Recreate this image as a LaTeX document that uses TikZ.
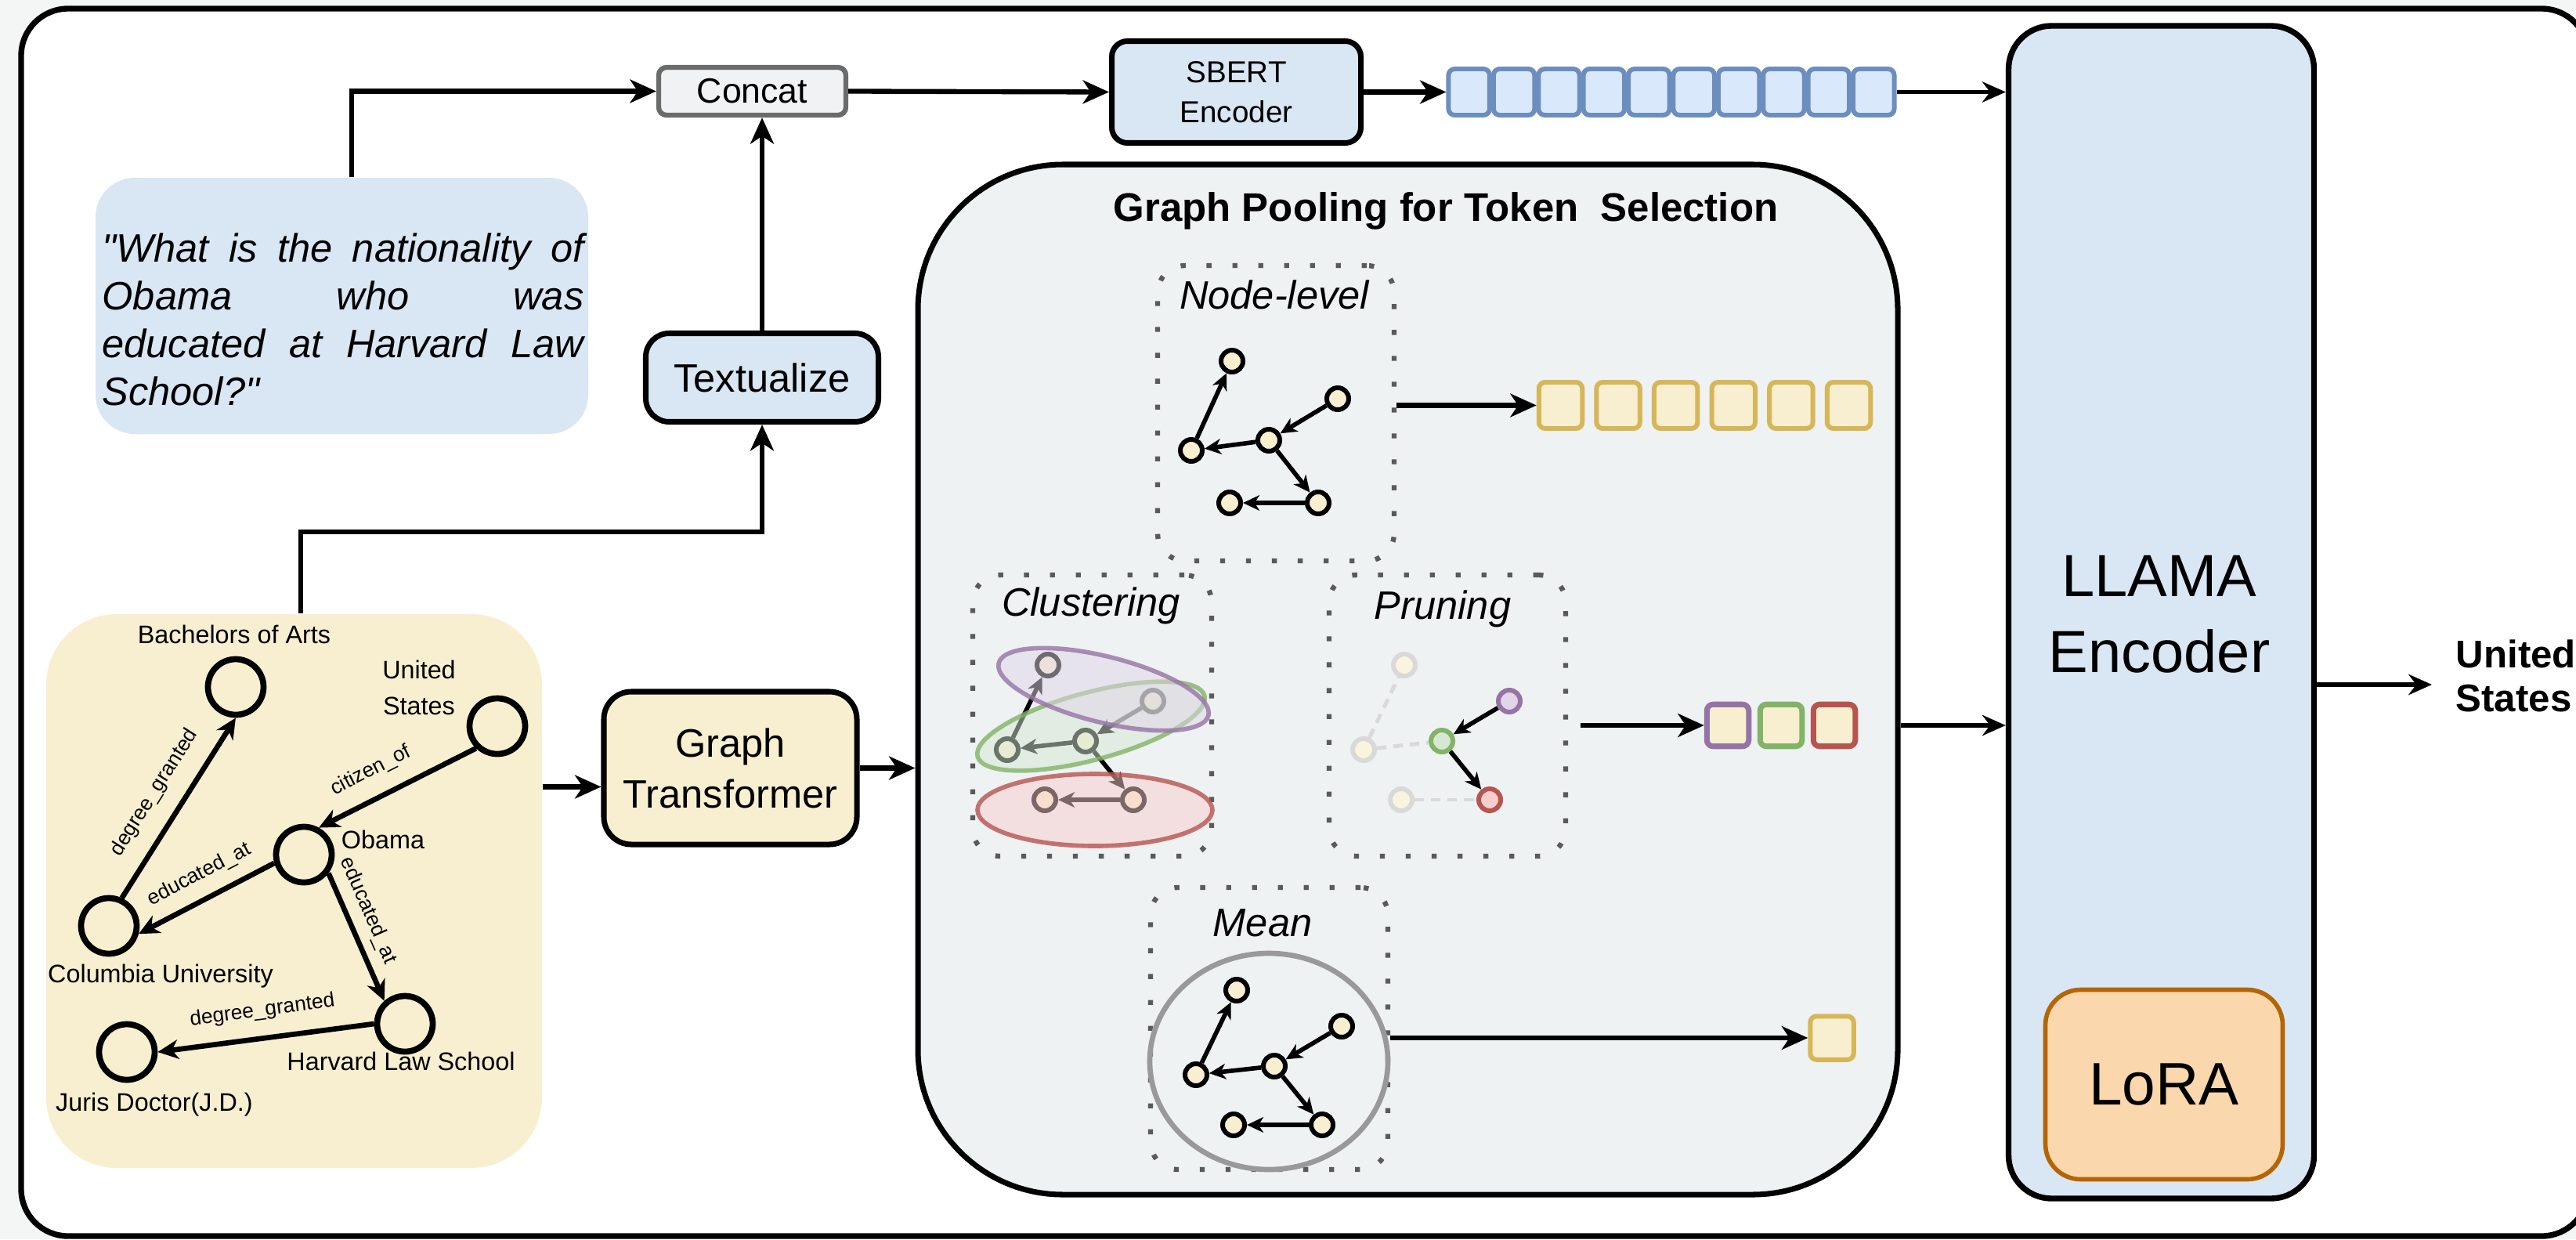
\documentclass[tikz,border=0pt]{standalone}
\usepackage{fontspec}
\setmainfont{Liberation Sans}
\usetikzlibrary{arrows.meta,shapes.geometric,positioning}

\definecolor{qblue}{HTML}{D9E6F3}
\definecolor{kgyel}{HTML}{F8EFD0}
\definecolor{poolbg}{HTML}{EEF2F3}
\definecolor{pagebg}{HTML}{F4F6F6}
\definecolor{cgray}{HTML}{F0F2F3}
\definecolor{cline}{HTML}{6B6B6B}
\definecolor{dotgray}{HTML}{5A5A5A}
\definecolor{tokline}{HTML}{6C8EBF}
\definecolor{tokfill}{HTML}{DAE8FC}
\definecolor{yline}{HTML}{D6B656}
\definecolor{pfill}{HTML}{E1D5E7}
\definecolor{pline}{HTML}{9673A6}
\definecolor{gfill}{HTML}{D5E8D4}
\definecolor{gline}{HTML}{82B366}
\definecolor{rfill}{HTML}{F8CECC}
\definecolor{rline}{HTML}{B85450}
\definecolor{lfill}{HTML}{FAD7AC}
\definecolor{lline}{HTML}{B46504}
\definecolor{meangray}{HTML}{999999}

\newcommand{\fsz}[2]{\fontsize{#1}{#2}\selectfont}

\tikzset{
  arr/.style={line width=1.8pt,-{Stealth[length=9.5pt,width=8.5pt,inset=2.8pt]}},
  thinarr/.style={line width=1.5pt,-{Stealth[length=8.5pt,width=7.5pt,inset=2.8pt]}},
  kgarr/.style={line width=1.9pt,-{Stealth[length=7.5pt,width=7pt,inset=2.3pt]}},
  miniarr/.style={line width=1.6pt,-{Stealth[length=6pt,width=5.6pt,inset=1.8pt]}},
  prdash/.style={draw=gray!30,line width=1.4pt,dash pattern=on 3.5pt off 2.5pt},
  blockbox/.style={draw,line width=2pt,rounded corners=0.3cm,align=center,inner sep=0pt},
  kgnode/.style={circle,draw,line width=2.2pt,minimum size=0.71cm,inner sep=0pt},
  mini/.style={circle,draw,line width=1.7pt,fill=kgyel,minimum size=0.28cm,inner sep=0pt},
  faded/.style={mini,draw=gray!30,fill=kgyel!70},
  kglabel/.style={font=\fsz{9.2}{13}},
  edgelabel/.style={font=\fsz{7.5}{9},sloped,inner sep=1pt},
  dotbox/.style={draw=dotgray,line width=1.8pt,dash pattern=on 1.8pt off 7.6pt,rounded corners=0.35cm},
  token/.style={draw,line width=1.7pt,rounded corners=0.08cm,inner sep=0pt},
  sublabel/.style={font=\fsz{14.4}{17}\itshape,anchor=base},
  cluster/.style={ellipse,line width=1.6pt,inner sep=0pt,fill opacity=0.5,draw opacity=0.8},
}

\begin{document}
\begin{tikzpicture}
  \useasboundingbox (0,0) rectangle (32.89,-15.82);
  \clip (0,0) rectangle (32.89,-15.82);
  \fill[pagebg] (0,0) rectangle (32.89,-15.82);
  \draw[line width=2.1pt,fill=white,rounded corners=0.6cm] (0.27,-0.11) rectangle (33.05,-15.78);

  % question and text branch
  \node[fill=qblue,rounded corners=0.5cm,minimum width=6.29cm,minimum height=3.27cm] (qbox) at (4.365,-3.905) {};
  \node[text width=6.15cm,align=justify,font=\fsz{14.4}{17.3}\itshape,inner sep=0pt] (qtext) at (4.38,-4.08)
    {\textquotedbl What is the nationality of\linebreak Obama who was\linebreak educated at Harvard Law\linebreak School?\textquotedbl};
  \node[draw=cline,fill=cgray,line width=1.8pt,rounded corners=0.1cm,minimum width=2.39cm,minimum height=0.61cm,inner sep=0pt,font=\fsz{12.7}{15}] (concat) at (9.605,-1.165) {Concat};
  \node[blockbox,fill=qblue,minimum width=2.97cm,minimum height=1.13cm,font=\fsz{14.4}{17}] (textual) at (9.73,-4.82) {Textualize};
  \node[blockbox,fill=qblue,rounded corners=0.2cm,minimum width=3.18cm,minimum height=1.30cm,font=\fsz{11}{14.5}] (sbert) at (15.785,-1.175) {SBERT\\Encoder};
  \foreach \i in {0,...,9}
    \node[token,draw=tokline,fill=tokfill,minimum width=0.525cm,minimum height=0.59cm] (bt\i) at ({18.757+0.574*\i},-1.175) {};

  % knowledge graph
  \node[fill=kgyel,rounded corners=0.9cm,minimum width=6.33cm,minimum height=7.07cm] (kg) at (3.755,-11.375) {};
  \node[kgnode] (ba) at (3.01,-8.77) {};
  \node[kgnode] (us) at (6.35,-9.27) {};
  \node[kgnode] (ob) at (3.88,-10.91) {};
  \node[kgnode] (cu) at (1.39,-11.82) {};
  \node[kgnode] (hls) at (5.17,-13.07) {};
  \node[kgnode] (jd) at (1.62,-13.43) {};
  \node[kglabel,anchor=base] (balab) at (2.99,-8.21) {Bachelors of Arts};
  \node[kglabel,align=center] (uslab) at (5.35,-8.78) {United\\States};
  \node[kglabel,anchor=base] (oblab) at (4.89,-10.83) {Obama};
  \node[kglabel,anchor=base] (culab) at (2.05,-12.54) {Columbia University};
  \node[kglabel,anchor=base] (hlslab) at (5.12,-13.66) {Harvard Law School};
  \node[kglabel,anchor=base] (jdlab) at (1.97,-14.18) {Juris Doctor(J.D.)};
  \draw[kgarr] (cu.65) -- node[edgelabel,above=5pt] {degree\_granted} (ba.south);
  \draw[kgarr] (us.226) -- node[edgelabel,above=4.5pt,pos=0.59] {citizen\_of} (ob.61);
  \draw[kgarr] (ob.196) -- node[edgelabel,above=3.5pt,pos=0.47] {educated\_at} (cu.-15);
  \draw[kgarr] (ob.-37) -- node[edgelabel,above=2.3pt,pos=0.36] {educated\_at} (hls.132);
  \draw[kgarr] (hls.west) -- node[edgelabel,above=4.5pt] {degree\_granted} (jd.east);

  \node[blockbox,fill=kgyel,rounded corners=0.35cm,minimum width=3.23cm,minimum height=1.95cm,font=\fsz{14.4}{18.5}] (gt) at (9.325,-9.805) {Graph\\Transformer};
  \coordinate (gtin) at ([yshift=-0.24cm]gt.west);

  % pooling
  \node[draw,line width=2pt,fill=poolbg,rounded corners=1.85cm,minimum width=12.51cm,minimum height=13.15cm] (pool) at (17.975,-8.675) {};
  \node[font=\fsz{14.5}{17}\bfseries,anchor=base] (pooltitle) at (18.46,-2.82) {Graph Pooling for Token\ \ Selection};

  \node[dotbox,minimum width=3.02cm,minimum height=3.77cm] (nlbox) at (16.29,-5.275) {};
  \node[sublabel] (nllab) at (16.27,-3.94) {Node-level};
  \node[dotbox,minimum width=3.05cm,minimum height=3.59cm] (clbox) at (13.945,-9.135) {};
  \node[sublabel] (cllab) at (13.93,-7.86) {Clustering};
  \node[dotbox,minimum width=3.02cm,minimum height=3.59cm] (prbox) at (18.48,-9.135) {};
  \node[sublabel] (prlab) at (18.42,-7.90) {Pruning};
  \node[dotbox,minimum width=3.03cm,minimum height=3.6cm] (mnbox) at (16.205,-13.13) {};
  \node[sublabel] (mnlab) at (16.12,-11.95) {Mean};

  \foreach \n/\x/\y in {a/15.73/-4.61, b/17.08/-5.09, c/16.20/-5.62, d/15.21/-5.75, e/16.83/-6.42, f/15.70/-6.42}
    \node[mini] (nl\n) at (\x,\y) {};
  \draw[miniarr] (nld) -- (nla);
  \draw[miniarr] (nlb) -- (nlc);
  \draw[miniarr] (nlc) -- (nld);
  \draw[miniarr] (nlc) -- (nle);
  \draw[miniarr] (nle) -- (nlf);

  \foreach \n/\x/\y in {a/13.38/-8.49, b/14.72/-8.95, c/13.86/-9.46, d/12.86/-9.57, e/14.47/-10.21, f/13.34/-10.21}
    \node[mini] (cl\n) at (\x,\y) {};
  \draw[miniarr] (cld) -- (cla);
  \draw[miniarr] (clb) -- (clc);
  \draw[miniarr] (clc) -- (cld);
  \draw[miniarr] (clc) -- (cle);
  \draw[miniarr] (cle) -- (clf);
  \node[cluster,draw=gline,fill=gfill,rotate=15,minimum width=3.0cm,minimum height=0.86cm] (clg) at (13.93,-9.27) {};
  \node[cluster,draw=rline,fill=rfill,minimum width=3.0cm,minimum height=0.92cm] (clr) at (13.98,-10.34) {};
  \node[cluster,draw=pline,fill=pfill,rotate=-14,minimum width=2.76cm,minimum height=0.84cm] (clp) at (14.09,-8.80) {};

  \node[faded] (pra) at (17.93,-8.49) {};
  \node[mini,draw=pline,fill=pfill] (prb) at (19.27,-8.95) {};
  \node[mini,draw=gline,fill=gfill] (prc) at (18.41,-9.46) {};
  \node[faded] (prd) at (17.41,-9.57) {};
  \node[mini,draw=rline,fill=rfill] (pre) at (19.02,-10.21) {};
  \node[faded] (prf) at (17.89,-10.21) {};
  \path[prdash] (prd) -- (pra);
  \path[prdash] (prd) -- (prc);
  \path[prdash] (prf) -- (pre);
  \draw[miniarr] (prb) -- (prc);
  \draw[miniarr] (prc) -- (pre);

  \node[ellipse,draw=meangray,line width=1.9pt,minimum width=3.04cm,minimum height=2.76cm,inner sep=0pt] (mnring) at (16.20,-13.55) {};
  \foreach \n/\x/\y in {a/15.79/-12.64, b/17.13/-13.10, c/16.27/-13.61, d/15.27/-13.72, e/16.88/-14.36, f/15.75/-14.36}
    \node[mini] (mn\n) at (\x,\y) {};
  \draw[miniarr] (mnd) -- (mna);
  \draw[miniarr] (mnb) -- (mnc);
  \draw[miniarr] (mnc) -- (mnd);
  \draw[miniarr] (mnc) -- (mne);
  \draw[miniarr] (mne) -- (mnf);

  % tokens
  \foreach \i in {0,...,5}
    \node[token,draw=yline,fill=kgyel,minimum width=0.555cm,minimum height=0.59cm] (yt\i) at ({19.925+0.736*\i},-5.175) {};
  \node[token,line width=2pt,draw=pline,fill=kgyel,minimum size=0.535cm] (tr0) at (22.06,-9.26) {};
  \node[token,line width=2pt,draw=gline,fill=kgyel,minimum size=0.535cm] (tr1) at (22.74,-9.26) {};
  \node[token,line width=2pt,draw=rline,fill=kgyel,minimum size=0.535cm] (tr2) at (23.42,-9.26) {};
  \node[token,draw=yline,fill=kgyel,minimum size=0.555cm] (mt) at (23.39,-13.25) {};

  % llm
  \node[draw,line width=2.1pt,fill=qblue,rounded corners=0.55cm,minimum width=3.9cm,minimum height=14.97cm] (llama) at (27.595,-7.815) {};
  \node[font=\fsz{21.6}{27.6},align=center] (llamatxt) at (27.57,-7.845) {LLAMA\\Encoder};
  \node[draw=lline,fill=lfill,line width=1.6pt,rounded corners=0.45cm,minimum width=3.03cm,minimum height=2.42cm,font=\fsz{21.8}{26}] (lora) at (27.63,-13.845) {LoRA};
  \node[font=\fsz{14}{15.9}\bfseries,align=left,anchor=west,inner sep=0pt] (ans) at (31.35,-8.625) {United\\States};
  \coordinate (ansin) at (31.05,-8.74);

  % arrows
  \draw[arr] ([xshift=0.125cm]qbox.north) |- (concat.west);
  \draw[arr] (textual.north) -- (textual.north |- concat.south);
  \draw[arr] ([xshift=0.085cm]kg.north) -- ++(0,1.04) -| (textual.south);
  \draw[arr] (concat.east) -- (sbert.west);
  \draw[arr] (sbert.east) -- (bt0.west);
  \draw[thinarr] (bt9.east) -- (bt9.east -| llama.west);
  \draw[arr] (kg.east |- gtin) -- (gtin);
  \draw[arr] (gt.east) -- (gt.east -| pool.west);
  \draw[arr] (nlbox.east |- yt0.west) -- (yt0.west);
  \draw[arr,shorten <=0.16cm] (prbox.east |- tr0.west) -- (tr0.west);
  \draw[arr] (mnring.east |- mt.west) -- (mt.west);
  \draw[thinarr] (pool.east |- tr0.east) -- (llama.west |- tr0.east);
  \draw[thinarr] (llama.east |- ansin) -- (ansin);
\end{tikzpicture}
\end{document}
